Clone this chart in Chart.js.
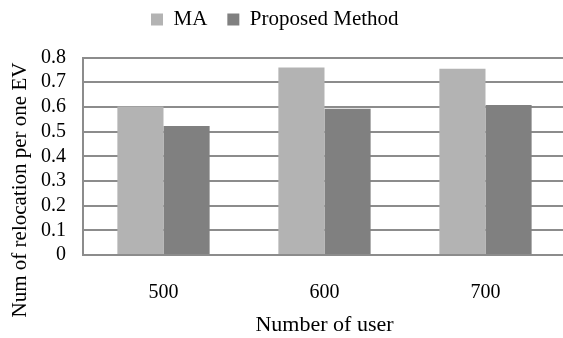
<!DOCTYPE html>
<html>
<head>
<meta charset="utf-8">
<script src="https://cdn.jsdelivr.net/npm/chart.js@4.4.1/dist/chart.umd.min.js"></script>
<style>
  html, body { margin: 0; padding: 0; background: #fff; overflow: hidden; }
  #wrap { position: relative; width: 566px; height: 338px; }
</style>
</head>
<body>
<div id="wrap"><canvas id="chart"></canvas></div>
<script>
// Relocations per EV for each user count
const categories = ['500', '600', '700'];
const maValues = [0.602, 0.759, 0.754];
const proposedValues = [0.523, 0.592, 0.608];
const seriesNames = ['MA', 'Proposed Method'];
const yTicks = [0, 0.1, 0.2, 0.3, 0.4, 0.5, 0.6, 0.7, 0.8];
const xTitle = 'Number of user';
const yTitle = 'Num of relocation per one EV';

const SERIF = "'Liberation Serif', 'Times New Roman', serif";
const GRID = '#8c8c8c';
const LEGEND_PAD = 20;

// Vertical axis title, centred on the left margin of the figure
const yTitlePlugin = {
  id: 'yTitle',
  afterDraw(chart) {
    const ctx = chart.ctx;
    ctx.save();
    ctx.translate(20, 190);
    ctx.rotate(-Math.PI / 2);
    ctx.font = '21px ' + SERIF;
    ctx.fillStyle = '#000';
    ctx.textAlign = 'center';
    ctx.textBaseline = 'middle';
    ctx.fillText(yTitle, 0, 0);
    ctx.restore();
  }
};

// Place the legend row in the top band, starting left of centre
const legendPlacement = {
  id: 'legendPlacement',
  afterLayout(chart) {
    const lg = chart.legend;
    if (!lg) return;
    const w = lg.right - lg.left;
    lg.left = 151 - LEGEND_PAD;
    lg.right = lg.left + w;
    const h = lg.bottom - lg.top;
    lg.top = 9 - LEGEND_PAD;
    lg.bottom = lg.top + h;
  }
};

new Chart(document.getElementById('chart'), {
  type: 'bar',
  data: {
    labels: categories,
    datasets: [
      { label: seriesNames[0], data: maValues, backgroundColor: '#b3b3b3' },
      { label: seriesNames[1], data: proposedValues, backgroundColor: '#808080' }
    ]
  },
  options: {
    responsive: true,
    maintainAspectRatio: false,
    animation: false,
    layout: { padding: { left: 0, top: 6.5, right: 0, bottom: 0 } },
    datasets: {
      bar: { categoryPercentage: 0.573, barPercentage: 1.0 }
    },
    plugins: {
      legend: {
        position: 'top',
        align: 'start',
        labels: {
          font: { family: SERIF, size: 21 },
          color: '#000',
          boxWidth: 12,
          boxHeight: 12,
          padding: LEGEND_PAD
        }
      },
      tooltip: { enabled: false }
    },
    scales: {
      x: {
        afterFit(scale) { scale.height = 83; },
        grid: { display: false, drawTicks: false },
        border: { display: false },
        ticks: { font: { family: SERIF, size: 20 }, color: '#000', padding: 26 },
        title: {
          display: true,
          text: xTitle,
          font: { family: SERIF, size: 22 },
          color: '#000',
          padding: { top: 0, bottom: 0 }
        }
      },
      y: {
        min: 0,
        max: 0.8,
        afterFit(scale) { scale.width = 83; },
        afterBuildTicks(scale) { scale.ticks = yTicks.map(v => ({ value: v })); },
        grid: { color: GRID, lineWidth: 2, drawTicks: false },
        border: { display: true, color: GRID, width: 2 },
        ticks: {
          autoSkip: false,
          font: { family: SERIF, size: 20 },
          color: '#000',
          padding: 17,
          callback: v => String(Math.round(v * 10) / 10)
        }
      }
    }
  },
  plugins: [yTitlePlugin, legendPlacement]
});
</script>
</body>
</html>
